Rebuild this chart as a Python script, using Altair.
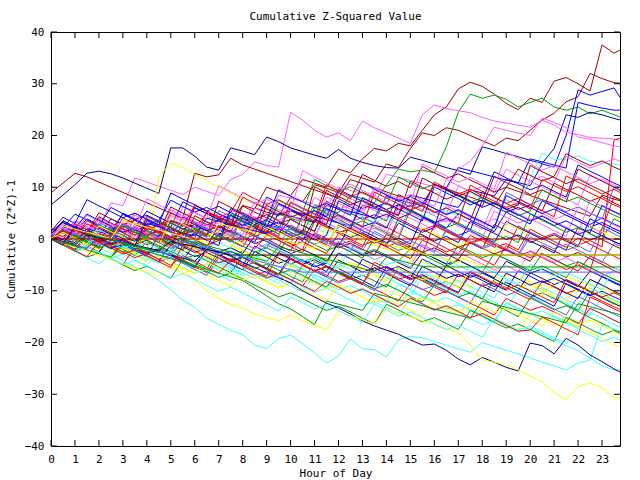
import altair as alt
import pandas as pd

# ---------------- data ----------------
HOURS = [0, 0.5, 1, 1.5, 2, 2.5, 3, 3.5,
         4, 4.5, 5, 5.5, 6, 6.5, 7, 7.5,
         8, 8.5, 9, 9.5, 10, 10.5, 11, 11.5,
         12, 12.5, 13, 13.5, 14, 14.5, 15, 15.5,
         16, 16.5, 17, 17.5, 18, 18.5, 19, 19.5,
         20, 20.5, 21, 21.5, 22, 22.5, 23, 23.5,
         23.75]

X_TICKS = [0, 1, 2, 3, 4, 5, 6, 7, 8, 9, 10, 11, 12, 13, 14, 15, 16, 17, 18, 19, 20, 21, 22, 23]
Y_TICKS = [-40, -30, -20, -10, 0, 10, 20, 30, 40]

# upper outliers
s01 = [1, 0.5, 2, 1.2, 0.4, -0.4, 2.5, 1.8,
       1, 0.2, 3.5, 2.8, 2, 5, 4.2, 3.4,
       6.5, 5.8, 10, 9.2, 8.4, 11.5, 10.8, 10,
       13.5, 12.8, 15.5, 17.5, 17, 18.5, 18, 21,
       24, 25.5, 29, 30.3, 29.5, 28, 26.2, 25,
       27.2, 26.4, 30.5, 31.2, 30, 28.6, 37.5, 35.9,
       36.5]
s02 = [0.5, -0.5, -1.3, 0.8, 0, -0.8, -1.6, -2.3,
       0.5, -0.3, -1, 2, 1.3, 0.5, 4, 3.2,
       2.5, 6, 5.2, 4.5, 8, 7.2, 10.5, 9.8,
       9, 12.5, 11.8, 11, 14.5, 13.8, 17.5, 20.5,
       20, 21.5, 21, 20, 19, 18, 19.5, 19,
       21, 23, 24.3, 26.5, 27.5, 32, 31, 30.2,
       30.1]
s03 = [0, -0.7, 1.5, 0.8, 0, -0.8, -1.5, 1,
       0.3, -0.5, -1.2, -2, 1.5, 0.8, 0, 3.5,
       2.8, 2, 1.3, 4.8, 4, 3.3, 6.5, 5.8,
       5, 8.5, 7.8, 7, 10.5, 13.5, 13, 13.3,
       12.8, 17.8, 24.5, 28, 27.2, 27.8, 27, 25.5,
       26.4, 27.2, 25.5, 24.9, 25.5, 24.2, 24.9, 24,
       23.6]
s04 = [0, 1.5, 0.9, 0.3, -0.3, 2.5, 1.9, 1.3,
       0.7, 0.1, 3.5, 2.9, 2.3, 1.7, 1.1, 0.5,
       4, 3.4, 2.8, 2.2, 5.5, 4.9, 4.3, 3.7,
       3.1, 2.5, 6.5, 5.9, 5.3, 4.7, 8.5, 7.9,
       7.3, 6.7, 6.1, 9.5, 8.9, 8.3, 11.5, 10.9,
       10.3, 14.5, 13.9, 20, 28.8, 27.8, 28.5, 29.2,
       27.4]
s05 = [0.5, -0.1, 3.5, 2.9, 2.3, 7, 6.4, 11.8,
       11, 10.2, 9.4, 8.6, 10, 9.2, 8.4, 11.5,
       12.5, 14.9, 14.2, 13.9, 24.5, 23, 21, 19.7,
       20.5, 19, 22.8, 21.5, 20.5, 19.5, 18.5, 24,
       25.9, 25.2, 24.8, 24.4, 23.5, 22.8, 22.4, 22,
       21.6, 23, 22, 20.6, 20.2, 19.6, 19.5, 19.3,
       19.1]
s06 = [6.6, 8.5, 10.5, 12.7, 13.1, 12.6, 11.8, 10.8,
       9.8, 8.8, 17.6, 17.6, 16, 13.9, 13.3, 17.6,
       17, 16.3, 19.7, 18.8, 17.6, 16.9, 16.2, 15.6,
       17.3, 15.6, 14.8, 14.2, 13.8, 13.7, 15.8, 15.2,
       14.5, 13.8, 13.2, 12.5, 17.8, 17.2, 16.5, 15.9,
       15.2, 14.6, 17.5, 24, 23.5, 24.5, 24, 23.3,
       23]
s07 = [8.9, 10.8, 12.7, 12, 11, 10, 9, 8,
       7, 6, 5, 4, 12.7, 12, 12.4, 15.6,
       14.3, 13.5, 12.7, 11.9, 11.1, 10.3, 9.5, 8.7,
       7.9, 11.5, 10.7, 9.9, 9.1, 8.3, 7.5, 6.7,
       10.5, 9.7, 8.9, 8.1, 7.3, 6.5, 10, 9.2,
       8.4, 7.6, 6.8, 6, 5.2, 4.4, 8.5, 7.7,
       7.4]
s08 = [0, -0.6, -1.2, 1, 0.4, -0.2, -0.8, -1.4,
       -2, 12, 14.7, 13.8, 12.5, 11.2, 10, 8.8,
       7.6, 6.8, 6, 5.2, 4.4, 3.6, 2.8, 2,
       1.2, 0.4, -0.4, -1.2, -2, -2.8, -3.6, -4.4,
       -5.2, -6, -3.5, -4.3, -5.1, -5.9, -6.7, -7.5,
       -8.3, -9.1, -6.5, -7.3, -8.1, -8.9, -9.7, -10.5,
       -10.9]
# main band
s09 = [0, -1.1, 0.4, -0.8, -1.9, -0.6, -1.7, 1.8,
       0.6, -0.5, -1.6, -0.3, -1.4, 2.9, 1.7, 0.5,
       -0.7, -1.9, 0.8, -0.3, -1.5, -2.6, 1.2, 0.1,
       -1.1, -0.4, -1.6, 3.5, 2.3, 1.1, -0.1, 0.6,
       -0.6, -1.8, -3, 0.7, -0.4, -1.6, -0.9, -2.1,
       1.9, 0.7, -0.5, -1.6, 0.2, -1, -2.2, -3.3,
       -3.9]
s10 = [0.3, 1.2, 0.1, -1, -0.2, -1.4, -2.5, -1.8,
       1.5, 0.3, -0.9, -2, -0.7, -1.9, -3, -4.1,
       -2.2, -3.4, -1.1, -2.2, -3.3, -4.5, -3.6, -4.8,
       -0.5, -1.7, -2.8, -2, -3.1, -4.3, -1.9, -3,
       -4.2, -5.3, -4.1, -5.2, -6.4, -2.8, -3.9, -5,
       -6.1, -5.2, -6.3, -7.5, -4.4, -5.5, -6.7, -7.8,
       -8.3]
s11 = [0.6, 2.4, 1.2, 3.9, 2.7, 1.6, 4.8, 3.6,
       2.4, 1.3, 2.2, 1, 6.1, 4.9, 3.8, 2.6,
       4.4, 3.2, 2.1, 1, 3.8, 2.6, 1.5, 5.9,
       4.7, 3.6, 2.4, 3.2, 2.1, 6.8, 5.6, 4.4,
       3.3, 2.1, 4.9, 3.7, 2.6, 1.4, 5.2, 4,
       2.9, 7.4, 6.2, 5.1, 3.9, 2.8, 4.1, 2.9,
       2.4]
s12 = [1.2, 0.1, 2.6, 1.4, 4.1, 2.9, 1.8, 0.6,
       3.3, 2.1, 5.7, 4.5, 3.4, 2.2, 4.9, 3.7,
       2.6, 7.2, 6, 4.9, 5.8, 4.6, 3.5, 8.1,
       6.9, 5.8, 4.6, 9.7, 8.5, 7.4, 6.2, 7.1,
       5.9, 4.8, 10.3, 9.1, 8, 6.8, 7.6, 6.5,
       11.2, 10, 8.9, 7.7, 6.6, 12.4, 11.2, 10.1,
       9.5]
s13 = [0, -1.1, -2.2, -1.5, -2.6, -3.8, -2.9, -4,
       -5.1, -2.3, -3.4, -4.6, -5.7, -4.9, -6, -7.1,
       -3.6, -4.7, -5.9, -7, -6.1, -7.2, -8.4, -9.5,
       -6.2, -7.3, -8.5, -9.6, -8.8, -9.9, -11, -7.4,
       -8.5, -9.7, -10.8, -10, -11.1, -12.2, -13.4, -9.9,
       -11, -12.2, -11.3, -12.4, -13.6, -14.7, -11.2, -12.3,
       -12.9]
s14 = [0.2, -0.9, 0.9, -0.2, -1.3, -2.5, -1.7, -2.8,
       0.6, -0.5, -1.7, -0.9, -2, -3.1, -4.3, -1.1,
       -2.2, -3.4, -4.5, -3.7, -4.8, -5.9, -1.8, -2.9,
       -4.1, -5.2, -4.4, -5.5, -6.6, -7.8, -4.3, -5.4,
       -6.5, -7.7, -6.8, -8, -9.1, -10.2, -6.6, -7.7,
       -8.9, -10, -9.2, -10.3, -11.4, -7.9, -9, -10.2,
       -10.7]
s15 = [0.9, -0.2, 1.3, 0.2, -1, 2.3, 1.2, 0,
       -1.1, -0.3, -1.4, 3.1, 2, 0.8, -0.3, 0.5,
       -0.6, 3.8, 2.6, 1.5, 0.3, 1.2, 0, -1.1,
       2.7, 1.5, 0.4, -0.8, 0.1, -1, -2.2, 1.9,
       0.7, -0.4, -1.6, -0.8, -1.9, 2.8, 1.6, 0.5,
       -0.7, 0.2, -1, -2.1, 2.2, 1, -0.1, -1.3,
       -1.8]
s16 = [0, -1.1, -0.2, -1.4, -2.5, 0.7, -0.4, -1.6,
       -2.7, -1.9, -3, -4.2, -0.9, -2, -3.2, -2.4,
       -3.5, -4.7, -5.8, -2.6, -3.7, -4.9, -4, -5.2,
       -6.3, -7.5, -3.9, -5, -6.2, -5.3, -6.5, -7.6,
       -8.8, -5.1, -6.3, -7.4, -6.6, -7.7, -8.9, -10,
       -6.5, -7.6, -8.8, -7.9, -9.1, -10.2, -11.4, -12.5,
       -13]
s17 = [0.4, 2.6, 1.5, 0.3, 1.1, 0, -1.2, 2.4,
       1.2, 0.1, -1.1, -0.2, -1.4, -2.5, 0.8, -0.4,
       -1.5, 2.1, 0.9, -0.2, -1.4, -0.5, -1.7, -2.8,
       1.1, -0.1, -1.2, -0.4, -1.5, -2.7, -3.8, -0.2,
       -1.3, -2.5, -1.6, -2.8, -3.9, -5.1, -1.3, -2.5,
       -3.6, -2.8, -3.9, -5.1, -6.2, -3.3, -4.4, -5.6,
       -6.1]
s18 = [0, -1.1, -2.2, -1.4, -2.5, -3.7, 0.2, -0.9,
       -2.1, -3.2, -2.4, -3.5, -4.7, -5.8, -2.3, -3.4,
       -4.6, -5.7, -4.9, -6, -7.2, -8.3, -4.4, -5.5,
       -6.7, -7.8, -7, -8.1, -9.3, -5.6, -6.7, -7.9,
       -9, -8.2, -9.3, -10.5, -11.6, -7.8, -8.9, -10.1,
       -11.2, -10.4, -11.5, -12.7, -13.8, -10.1, -11.2, -12.4,
       -12.9]
s19 = [0.5, 1.3, 2.9, 1.8, 0.6, 3.9, 2.8, 1.6,
       2.5, 1.3, 0.2, 4.3, 3.1, 2, 0.8, 1.7,
       0.5, -0.6, 3.6, 2.4, 1.3, 0.1, 0.9, -0.2,
       -1.4, 2.8, 1.6, 0.5, -0.7, 0.2, -1, 4.2,
       3, 1.9, 0.7, 1.6, 0.4, -0.7, 3.4, 2.2,
       1.1, -0.1, 0.8, -0.4, -1.5, 3.9, 2.7, 1.6,
       1]
s20 = [2.1, 1, 3.4, 2.2, 1.1, 1.9, 0.8, 4.6,
       3.4, 2.3, 1.1, 6.2, 5, 3.9, 4.7, 3.6,
       2.4, 1.3, 6.9, 5.7, 4.6, 3.4, 4.3, 3.1,
       2, 7.8, 6.6, 5.5, 4.3, 5.2, 4, 2.9,
       1.7, 6.5, 5.3, 4.2, 3, 3.9, 2.7, 7.3,
       6.1, 5, 3.8, 4.7, 3.5, 2.4, 1.2, 2.1,
       1.5]
s21 = [0, -1.1, 0.6, -0.5, -1.7, -2.8, -2, -3.1,
       -4.3, -1.1, -2.2, -3.4, -4.5, -3.7, -4.8, -6,
       -7.1, -6.3, -7.4, -8.6, -5.2, -6.3, -7.5, -8.6,
       -9.8, -9, -10.1, -11.3, -12.4, -8.7, -9.8, -11,
       -12.1, -11.3, -12.4, -13.6, -14.7, -15.9, -12.2, -13.3,
       -14.5, -15.6, -14.8, -15.9, -17.1, -13.4, -14.5, -15.7,
       -16.2]
s22 = [0, 1.4, 0.3, -0.9, -2, -1.2, -2.3, 1.1,
       0, -1.2, -2.3, -1.5, -2.6, -3.8, -0.6, -1.7,
       -2.9, -4, -3.2, -4.3, -5.5, -1.9, -3, -4.2,
       -5.3, -4.5, -5.6, -6.8, -7.9, -4.6, -5.7, -6.9,
       -8, -7.2, -8.3, -9.5, -6.1, -7.2, -8.4, -9.5,
       -8.7, -9.8, -11, -12.1, -8.8, -9.9, -11.1, -12.2,
       -12.7]
s23 = [1.5, 3.2, 2.1, 0.9, 4.3, 3.1, 2, 0.8,
       1.7, 0.5, 5.1, 3.9, 2.8, 1.6, 2.5, 1.3,
       6.4, 5.2, 4.1, 2.9, 3.8, 2.6, 1.5, 7.3,
       6.1, 5, 3.8, 4.7, 3.5, 8.6, 7.4, 6.3,
       5.1, 6, 4.8, 3.7, 9.2, 8, 6.9, 5.7,
       6.6, 5.4, 10.8, 9.6, 8.5, 7.3, 8.2, 7,
       6.4]
s24 = [0, -1.1, -2.3, 0.6, -0.5, -1.7, -0.9, -2,
       -3.2, -4.3, -1.1, -2.2, -3.4, -2.6, -3.7, -4.9,
       -6, -2.4, -3.5, -4.7, -3.9, -5, -6.2, -7.3,
       -4.1, -5.2, -6.4, -5.6, -6.7, -7.9, -9, -5.3,
       -6.4, -7.6, -6.8, -7.9, -9.1, -10.2, -6.6, -7.7,
       -8.9, -8.1, -9.2, -10.4, -11.5, -7.8, -8.9, -10.1,
       -10.6]
s25 = [0, -1.1, -0.3, -1.4, -2.6, -3.7, -0.4, -1.5,
       -2.7, -1.9, -3, -4.2, -5.3, -2.1, -3.2, -4.4,
       -3.6, -4.7, -5.9, -7, -3.8, -4.9, -6.1, -5.3,
       -6.4, -7.6, -8.7, -5.5, -6.6, -7.8, -7, -8.1,
       -9.3, -10.4, -6.8, -7.9, -9.1, -8.3, -9.4, -10.6,
       -11.7, -8.2, -9.3, -10.5, -9.7, -10.8, -12, -13.1,
       -13.6]
s26 = [0.4, -0.7, 1.9, 0.8, -0.4, 0.4, -0.7, -1.9,
       1.3, 0.2, -1, -0.2, -1.3, -2.5, 0.9, -0.2,
       -1.4, -2.5, -1.7, -2.8, 1.2, 0.1, -1.1, -2.2,
       -1.4, -2.5, -3.7, 0.1, -1, -2.2, -1.4, -2.5,
       -3.7, -4.8, -1.3, -2.4, -3.6, -2.8, -3.9, -5.1,
       -6.2, -2.9, -4, -5.2, -4.4, -5.5, -6.7, -7.8,
       -8.3]
s27 = [0, -1.1, -2.3, -1.5, -2.6, 0.5, -0.6, -1.8,
       -2.9, -2.1, -3.2, -4.4, -5.5, -1.9, -3, -4.2,
       -3.4, -4.5, -5.7, -6.8, -3.1, -4.2, -5.4, -4.6,
       -5.7, -6.9, -8, -9.2, -5.4, -6.5, -7.7, -6.9,
       -8, -9.2, -10.3, -6.9, -8, -9.2, -8.4, -9.5,
       -10.7, -11.8, -13, -8.6, -9.7, -10.9, -10.1, -11.2,
       -11.7]
s28 = [0.6, 2.7, 1.6, 0.4, 3.8, 2.6, 1.5, 2.3,
       1.2, 0, 4.1, 2.9, 1.8, 0.6, 1.5, 0.3,
       5.2, 4, 2.9, 1.7, 2.6, 1.4, 0.3, 4.7,
       3.5, 2.4, 1.2, 2.1, 0.9, 6.3, 5.1, 4,
       2.8, 3.7, 2.5, 1.4, 0.2, 5.4, 4.2, 3.1,
       3.9, 2.8, 1.6, 0.5, 6.2, 5, 3.9, 2.7,
       2.1]
s29 = [0, -1.2, -0.4, -1.5, -2.7, -3.8, -1, -2.1,
       -3.3, -4.4, -3.6, -4.7, -5.9, -7, -4.2, -5.3,
       -6.5, -7.6, -6.8, -7.9, -9.1, -10.2, -6.9, -8,
       -9.2, -10.3, -9.5, -10.6, -11.8, -12.9, -10.1, -11.2,
       -12.4, -13.5, -12.7, -13.8, -15, -16.1, -12.4, -13.5,
       -14.7, -13.9, -15, -16.2, -17.3, -14.2, -15.3, -16.5,
       -17]
s30 = [0, -1.1, 1.2, 0.1, -1.1, -0.3, -1.4, -2.6,
       0.8, -0.3, -1.5, -2.6, -1.8, -2.9, -4.1, -1.2,
       -2.3, -3.5, -2.7, -3.8, -5, -6.1, -3.4, -4.5,
       -5.7, -4.9, -6, -7.2, -8.3, -5.6, -6.7, -7.9,
       -7.1, -8.2, -9.4, -6.2, -7.3, -8.5, -9.6, -8.8,
       -9.9, -11.1, -7.9, -9, -10.2, -9.4, -10.5, -11.7,
       -12.2]
s31 = [1, 3.5, 2.4, 1.2, 5.1, 3.9, 2.8, 3.6,
       2.5, 1.3, 6.2, 5, 3.9, 2.7, 3.6, 2.4,
       8.1, 6.9, 5.8, 4.6, 5.5, 4.3, 3.2, 9.4,
       8.2, 7.1, 5.9, 6.8, 5.6, 4.5, 11.2, 10,
       8.9, 7.7, 8.6, 7.4, 6.3, 12.1, 10.9, 9.8,
       8.6, 9.5, 8.3, 7.2, 13.5, 12.3, 11.2, 10,
       9.4]
s32 = [0, 1.9, 0.8, -0.4, -1.5, 1.3, 0.2, -1,
       -0.2, -1.3, -2.5, 0.9, -0.2, -1.4, -2.5, -1.7,
       -2.8, 0.6, -0.5, -1.7, -2.8, -2, -3.1, -4.3,
       -0.8, -1.9, -3.1, -2.3, -3.4, -4.6, -5.7, -2.6,
       -3.7, -4.9, -4.1, -5.2, -6.4, -7.5, -4.3, -5.4,
       -6.6, -5.8, -6.9, -8.1, -9.2, -6.2, -7.3, -8.5,
       -9]
s33 = [0.5, -0.6, 2, 0.9, -0.3, 0.5, -0.6, 2.9,
       1.7, 0.6, -0.6, 0.3, -0.9, 3.4, 2.2, 1.1,
       -0.1, 0.8, -0.4, -1.5, 2.7, 1.5, 0.4, -0.8,
       0.1, -1.1, -2.2, 1.5, 0.3, -0.8, -2, -1.1,
       -2.3, 1.6, 0.4, -0.7, -1.9, -1, -2.2, -3.3,
       0.4, -0.8, -1.9, -1, -2.2, -3.3, -4.5, -0.9,
       -1.4]
s34 = [0, -1.2, -2.3, -1.5, -2.6, -3.8, -4.9, -1.6,
       -2.7, -3.9, -3.1, -4.2, -5.4, -6.5, -3, -4.1,
       -5.3, -4.5, -5.6, -6.8, -7.9, -9.1, -5.9, -7,
       -8.2, -7.4, -8.5, -9.7, -10.8, -12, -8.6, -9.7,
       -10.9, -10.1, -11.2, -12.4, -13.5, -14.7, -11.5, -12.6,
       -13.8, -13, -14.1, -15.3, -16.4, -13.4, -14.5, -15.7,
       -16.2]
s35 = [0, 1.7, 0.6, -0.6, -1.7, -0.9, -2, -3.2,
       -0.5, -1.6, -2.8, -3.9, -3.1, -4.2, -5.4, -6.5,
       -3.3, -4.4, -5.6, -6.7, -5.9, -7, -8.2, -9.3,
       -6.2, -7.3, -8.5, -9.6, -8.8, -9.9, -11.1, -12.2,
       -8.9, -10, -11.2, -10.4, -11.5, -12.7, -13.8, -15,
       -11.4, -12.5, -13.7, -12.9, -14, -15.2, -16.3, -17.5,
       -18]
s36 = [0, -1.2, -2.3, 0.4, -0.7, -1.9, -1.1, -2.2,
       -3.4, 0.8, -0.3, -1.5, -2.6, -1.8, -2.9, -4.1,
       -5.2, -1.4, -2.5, -3.7, -4.8, -4, -5.1, -6.3,
       -2.7, -3.8, -5, -6.1, -5.3, -6.4, -7.6, -3.9,
       -5, -6.2, -7.3, -6.5, -7.6, -8.8, -9.9, -6.1,
       -7.2, -8.4, -7.6, -8.7, -9.9, -11, -7.2, -8.3,
       -8.8]
s37 = [0.5, 2.8, 1.7, 0.5, 3.9, 2.7, 1.6, 0.4,
       1.3, 0.1, 4.6, 3.4, 2.3, 1.1, 2, 0.8,
       -0.3, 4.2, 3, 1.9, 0.7, 1.6, 0.4, 5.3,
       4.1, 3, 1.8, 2.7, 1.5, 0.4, 6.8, 5.6,
       4.5, 3.3, 4.2, 3, 1.9, 7.2, 6, 4.9,
       3.7, 4.6, 3.4, 2.3, 1.1, 7.5, 6.3, 5.2,
       4.6]
s38 = [0, -1.1, -2.3, 0.2, -0.9, -2.1, -1.3, -2.4,
       -3.6, -4.7, -1.8, -2.9, -4.1, -3.3, -4.4, -5.6,
       -6.7, -3.2, -4.3, -5.5, -4.7, -5.8, -7, -8.1,
       -4.8, -5.9, -7.1, -6.3, -7.4, -8.6, -9.7, -6.5,
       -7.6, -8.8, -8, -9.1, -10.3, -11.4, -7.9, -9,
       -10.2, -9.4, -10.5, -11.7, -12.8, -9.5, -10.6, -11.8,
       -12.3]
s39 = [0, -1.2, -2.3, -3.5, -2.7, -3.8, -5, -6.1,
       -3.2, -4.3, -5.5, -6.6, -5.8, -6.9, -8.1, -9.2,
       -6, -7.1, -8.3, -9.4, -8.6, -9.7, -10.9, -12,
       -8.9, -10, -11.2, -12.3, -11.5, -12.6, -13.8, -14.9,
       -11.6, -12.7, -13.9, -13.1, -14.2, -15.4, -16.5, -17.7,
       -14.3, -15.4, -16.6, -15.8, -16.9, -18.1, -19.2, -20.4,
       -20.9]
s40 = [0.3, -0.8, -2, 1.1, 0, -1.2, -0.4, -1.5,
       2.2, 1, -0.1, -1.3, -0.5, -1.6, 2.6, 1.4,
       0.3, -0.9, 0, -1.2, -2.3, 1.8, 0.6, -0.5,
       -1.7, -0.8, -2, -3.1, 0.9, -0.3, -1.4, -2.6,
       -1.7, -2.9, -4, -0.6, -1.7, -2.9, -2, -3.2,
       -4.3, -1.2, -2.3, -3.5, -2.6, -3.8, -4.9, -6.1,
       -6.6]
s41 = [1, 3.2, 2.1, 4.8, 3.6, 2.5, 1.3, 2.2,
       5.4, 4.2, 3.1, 1.9, 2.8, 1.6, 0.5, 4.6,
       3.4, 2.3, 1.1, 2, 0.8, -0.3, 3.8, 2.6,
       1.5, 0.3, 1.2, 0, -1.1, 3.1, 1.9, 0.8,
       -0.4, 0.5, -0.7, 3.4, 2.2, 1.1, -0.1, 0.8,
       -0.4, -1.5, -2.7, 2.1, 0.9, -0.2, 0.7, -0.5,
       -1]
s42 = [0, -1.2, -2.3, -1.5, -2.6, -3.8, -1, -2.1,
       -3.3, -4.4, -3.6, -4.7, -5.9, -7, -3.6, -4.7,
       -5.9, -7, -6.2, -7.3, -8.5, -5.1, -6.2, -7.4,
       -8.5, -7.7, -8.8, -10, -6.4, -7.5, -8.7, -9.8,
       -9, -10.1, -11.3, -12.4, -8.6, -9.7, -10.9, -10.1,
       -11.2, -12.4, -13.5, -14.7, -11.1, -12.2, -13.4, -14.5,
       -15]
s43 = [1, -0.1, 2.9, 1.8, 0.6, 1.5, 0.3, 3.9,
       2.7, 1.6, 0.4, 1.3, 0.1, 5.2, 4, 2.9,
       1.7, 2.6, 1.4, 0.3, -0.9, 4.6, 3.4, 2.3,
       1.1, 2, 0.8, -0.3, -1.5, -0.6, -1.8, -2.9,
       2.8, 1.6, 0.5, -0.7, 0.2, -1, -2.1, -3.3,
       -2.4, -3.6, -4.7, -5.9, -5, -6.2, 1.9, 8.1,
       7.6]
s44 = [0, -1.2, -2.3, -3.5, -2.7, -3.8, -5, -6.1,
       -5.3, -6.4, -7.6, -4, -5.1, -6.3, -7.4, -6.6,
       -7.7, -8.9, -10, -11.2, -10.4, -11.5, -12.7, -13.8,
       -13, -14.1, -15.3, -16.4, -12.6, -13.7, -14.9, -16,
       -15.2, -16.3, -17.5, -13.8, -14.9, -16.1, -17.2, -16.4,
       -17.5, -18.7, -19.8, -15.1, -16.2, -17.4, -18.5, -17.7,
       -18.2]
s45 = [0, 2.2, 4.8, 3.7, 2.5, 6.1, 4.9, 3.8,
       4.6, 3.5, 2.3, 7.2, 6, 4.9, 3.7, 4.6,
       3.4, 2.3, 8.1, 6.9, 5.8, 4.6, 5.5, 4.3,
       9.6, 8.4, 7.3, 6.1, 7, 5.8, 4.7, 3.5,
       10.1, 8.9, 7.8, 6.6, 7.5, 13, 11.8, 10.7,
       9.5, 10.4, 9.2, 8.1, 14.3, 13.1, 12, 10.8,
       10.3]
s46 = [0, -1.1, 1.4, 0.3, -0.9, -0.1, -1.2, 2.1,
       0.9, -0.2, -1.4, -0.5, -1.7, -2.8, 1.6, 0.4,
       -0.7, -1.9, -1, -2.2, -3.3, 0.9, -0.2, -1.4,
       -0.5, -1.7, -2.8, -4, -3.1, -4.3, -5.4, -1.1,
       -2.2, -3.4, -2.5, -3.7, -4.8, -6, -5.1, -6.3,
       -2.2, -3.3, -4.5, -3.6, -4.8, -5.9, -7.1, -6.2,
       -6.7]
s47 = [0, -1.1, -0.3, -1.4, 0.5, -0.6, -1.8, -0.9,
       -2.1, -3.2, -2.4, 0.8, -0.3, -1.5, -0.6, -1.8,
       2, 0.8, -0.3, 0.6, -0.6, 3.5, 2.3, 1.2,
       2.1, 5.5, 4.3, 3.2, 4.1, 2.9, 7, 5.8,
       4.7, 5.6, 4.4, 9, 7.8, 6.7, 7.6, 6.4,
       11.8, 16.6, 15.4, 15.3, 16.1, 15, 14.7, 14.5,
       14.3]
s48 = [0, -1.1, -0.3, 1.5, 0.3, -0.8, 0.1, -1.1,
       2.5, 1.3, 0.2, 1.1, -0.1, -1.2, -0.3, 2.8,
       1.6, 0.5, 1.4, 0.2, -0.9, -2.1, 3.5, 2.3,
       1.2, 2.1, 0.9, -0.2, -1.4, 4, 2.8, 1.7,
       2.6, 1.4, 0.3, -0.9, 0, -1.2, -2.3, 2.5,
       1.3, 0.2, 1.1, -0.1, -1.2, -0.3, -1.5, 19.1,
       19.5]
# lower outliers
s49 = [0, -1.2, -2.4, -3.6, -4.8, -3, -4.2, -5.4,
       -6.6, -8, -9.8, -11.8, -13.2, -15.3, -16.5, -17.6,
       -18.5, -20.5, -21.2, -19.2, -18.6, -20.2, -22, -24,
       -22.6, -19.3, -21.2, -21.4, -22.8, -19.5, -18.8, -19.1,
       -19.8, -20.5, -21.2, -21.9, -20, -20.8, -21.5, -22.2,
       -23, -23.8, -24.5, -25.3, -24, -23.4, -16.6, -17.4,
       -17.8]
s50 = [0, -1.1, -2.3, -1.5, -2.6, -3.8, -1.7, -2.8,
       -4, -3.2, -4.3, -5.5, -6.6, -5.8, -6.9, -8.1,
       -5.4, -6.5, -7.7, -6.9, -8, -9.2, -10.3, -9.5,
       -10.6, -11.8, -12.9, -12.1, -13.2, -14.4, -11.6, -12.7,
       -13.9, -13.1, -14.2, -15.4, -16.5, -15.7, -16.8, -18,
       -17.2, -18.3, -19.5, -20.6, -21.6, -23, -24.5, -25.3,
       -25.3]
s51 = [0, -0.6, -1.2, -1.8, 0.5, -0.1, -0.7, -1.3,
       -1.9, -2.5, -3.1, -3.7, -4.3, -2, -2.6, -3.2,
       -4.5, -5.5, -6.5, -7.5, -8.5, -10, -11.2, -12.4,
       -13.3, -14.5, -15.8, -16.8, -17.6, -18.4, -19.5, -20.5,
       -20.3, -21.5, -23.2, -24.3, -22.9, -23.8, -24.8, -25.5,
       -20.1, -20.6, -22.2, -19.2, -20.5, -22.4, -23.7, -25.1,
       -25.7]
s52 = [0, -0.8, -1.6, -2.4, -3.2, -4, -4.8, -5.6,
       -6.4, -7.2, -5, -5.8, -8, -10, -11.5, -12.6,
       -13.3, -14.5, -15.2, -15.8, -14.7, -15.8, -16.6, -17.5,
       -14, -14.8, -15.6, -16.4, -13.5, -14.3, -15, -15.8,
       -16.6, -17.4, -18.1, -20.5, -23.4, -23.8, -24.3, -25.3,
       -26.5, -27.6, -29.7, -31, -28.5, -27.8, -28.8, -30.7,
       -30.7]
s53 = [0, -1.1, -0.3, -1.4, -2.6, -3.7, -1.8, -2.9,
       -4.1, -3.3, -4.4, -5.6, -6.7, -4.5, -5.6, -6.8,
       -7.9, -7.1, -8.2, -9.4, -6.3, -7.4, -8.6, -9.7,
       -8.9, -10, -11.2, -12.3, -9.8, -10.9, -12.1, -11.3,
       -12.4, -13.6, -14.7, -11.9, -13, -14.2, -13.4, -14.5,
       -15.7, -16.8, -14.2, -15.3, -16.5, -15.7, -16.8, -18,
       -18.5]
s54 = [0, -0.7, -1.4, -2.1, -2.8, -3.5, -1, -1.7,
       -2.4, -3.1, -3.8, -4.5, -5.2, -5.9, -6.6, -7.3,
       -8, -9.5, -11, -12.5, -13.5, -15, -16.5, -12,
       -12.6, -13.2, -13.8, -10.5, -11.1, -11.7, -12.3, -12.9,
       -13.5, -14.1, -14.7, -15.3, -12, -12.6, -13.2, -13.8,
       -14.4, -15, -15.6, -16.2, -12.5, -13.1, -13.7, -14.3,
       -14.6]
s55 = [0, -1.1, -2.3, -1.5, -0.2, -1.3, -2.5, -3.6,
       -2.8, -3.9, -5.1, -3.2, -4.3, -5.5, -6.6, -4.1,
       -5.2, -6.4, -7.5, -6.7, -7.8, -9, -10.1, -8.2,
       -9.3, -10.5, -9.7, -10.8, -12, -13.1, -11.4, -12.5,
       -13.7, -12.9, -14, -15.2, -14.4, -15.5, -16.7, -17.8,
       -17.6, -15.1, -16.2, -17.4, -18.5, -11.2, -12.3, -13.5,
       -14]
s56 = [0, -1.2, -2.3, -1.5, -2.6, -3.8, -4.9, -4.1,
       -5.2, -6.4, -7.5, -6.7, -7.8, -9, -10.1, -9.3,
       -10.4, -11.6, -12.7, -13.9, -11.2, -12.3, -13.5, -12.7,
       -13.8, -15, -16.1, -12.6, -13.7, -14.9, -14.1, -15.2,
       -16.4, -17.5, -16.7, -17.8, -19, -15.3, -16.4, -17.6,
       -16.8, -17.9, -19.1, -20.2, -17.5, -18.6, -19.8, -19,
       -19.5]
# upper band
s57 = [0.5, -0.1, -0.7, 2, 1.4, 0.8, 0.2, -0.4,
       3, 2.4, 1.8, 1.2, 0.6, 4, 3.4, 2.8,
       2.2, 1.6, 1, 5, 4.4, 3.8, 3.2, 6.5,
       5.9, 5.3, 4.7, 4.1, 8.2, 7.6, 7, 6.4,
       10.5, 9.9, 13.8, 13.2, 12.6, 12, 11.4, 10.8,
       15.5, 14.9, 14.3, 13.7, 26.4, 25.8, 25.3, 24.9,
       24.9]
s58 = [0, 1.5, 3, 2.4, 1.8, 1.2, 3.5, 2.9,
       2.3, 1.7, 4.5, 3.9, 3.3, 2.7, 2.1, 5.5,
       4.9, 4.3, 3.7, 8.5, 7.9, 7.3, 6.7, 6.1,
       10, 9.4, 8.8, 8.2, 12.5, 11.9, 11.3, 10.7,
       10.1, 9.5, 13.5, 15, 18, 21.6, 21, 20.5,
       20, 23.4, 22.5, 21.5, 19.7, 19.3, 18.6, 18,
       17.8]
s59 = [0.5, -0.6, 2.2, 1, -0.1, 0.8, 3, 1.9,
       0.7, 1.6, 0.4, 4.5, 3.3, 2.2, 3.1, 1.9,
       0.8, 6, 4.8, 3.7, 4.6, 3.4, 8, 6.8,
       5.7, 6.6, 5.4, 10, 8.8, 7.7, 8.6, 7.4,
       6.3, 11.5, 10.3, 9.2, 10.1, 8.9, 13.5, 12.3,
       11.2, 12.1, 10.9, 16, 14.8, 13.7, 14.6, 15.5,
       15]
s60 = [0, -1.1, 1.8, 0.7, -0.5, 0.4, 3, 1.9,
       0.7, 1.6, 0.4, -0.7, 4.5, 3.3, 2.2, 3.1,
       1.9, 0.8, 6.5, 5.3, 4.2, 5.1, 3.9, 2.8,
       9, 7.8, 12.5, 11.3, 10.2, 11.1, 9.9, 14,
       12.8, 11.7, 12.6, 11.4, 10.3, 9.1, 10, 13.5,
       12.3, 11.2, 12.1, 16.5, 15.3, 14.2, 15.1, 13.9,
       13.4]
s61 = [0, 1.6, 0.5, -0.7, 2.8, 1.6, 2.5, 1.3,
       0.2, 3.5, 2.3, 1.2, 2.1, 0.9, -0.2, 4.8,
       3.6, 2.5, 3.4, 7.5, 6.3, 5.2, 11.5, 10.3,
       9.2, 10.1, 8.9, 7.8, 6.6, 12, 10.8, 9.7,
       10.6, 9.4, 8.3, 7.1, 8, 6.8, 5.7, 4.5,
       5.4, 9.5, 8.3, 7.2, 8.1, 6.9, 5.8, 4.6,
       4.1]
s62 = [0.5, 3.5, 2.3, 1.2, 2.1, 0.9, 5, 3.8,
       2.7, 3.6, 7.5, 6.3, 5.2, 6.1, 4.9, 3.8,
       2.6, 3.5, 2.3, 6.8, 5.6, 4.5, 5.4, 4.2,
       3.1, 1.9, 8, 6.8, 5.7, 6.6, 5.4, 4.3,
       3.1, 4, 2.8, 1.7, 7.5, 6.3, 5.2, 6.1,
       4.9, 3.8, 2.6, 3.5, 2.3, 1.2, 6.5, 5.3,
       4.8]
s63 = [0, 1.5, 0.3, 3.5, 2.3, 1.2, 2.1, 5,
       3.8, 2.7, 3.6, 2.4, 6.5, 5.3, 4.2, 5.1,
       9, 7.8, 6.7, 7.6, 6.4, 5.3, 4.1, 10.5,
       9.3, 8.2, 9.1, 7.9, 6.8, 5.6, 6.5, 5.3,
       11, 9.8, 8.7, 9.6, 8.4, 7.3, 6.1, 7,
       5.8, 11.5, 10.3, 9.2, 10.1, 8.9, 7.8, 6.6,
       6.1]
s64 = [0, 2, 0.8, -0.3, 3.2, 2, 2.9, 1.7,
       4, 2.8, 1.7, 2.6, 1.4, 0.3, 5.5, 4.3,
       3.2, 4.1, 2.9, 1.8, 7, 5.8, 4.7, 5.6,
       4.4, 3.3, 4.2, 3, 8.5, 7.3, 6.2, 7.1,
       5.9, 4.8, 5.7, 4.5, 3.4, 2.2, 9, 7.8,
       6.7, 7.6, 6.4, 5.3, 6.2, 5, 3.9, 10,
       9.5]
s65 = [0.2, 1.6, 0.5, 2.9, 1.8, 0.6, 4.1, 2.9,
       1.8, 2.7, 1.5, 0.4, 6.6, 5.4, 4.3, 3.1,
       4, 2.8, 1.7, 0.5, 7.2, 6, 4.9, 3.7,
       4.6, 3.4, 2.3, 9.1, 7.9, 6.8, 5.6, 6.5,
       5.3, 4.2, 3, 10.4, 9.2, 8.1, 6.9, 7.8,
       6.6, 5.5, 4.3, 12.2, 11, 9.9, 8.7, 9.6,
       9]
s66 = [0, -1.1, 0.7, -0.4, -1.6, 1.9, 0.7, -0.4,
       0.5, -0.7, 3.2, 2, 0.9, -0.3, 0.6, -0.6,
       4.5, 3.3, 2.2, 1, 1.9, 0.7, 6.1, 4.9,
       3.8, 2.6, 3.5, 2.3, 1.2, 0, 5.7, 4.5,
       3.4, 2.2, 3.1, 1.9, 0.8, -0.4, 0.5, -0.7,
       4.8, 3.6, 2.5, 1.3, 2.2, 1, -0.1, 3.9,
       3.3]
s67 = [1.5, 4.2, 3, 7.6, 6.4, 5.3, 4.1, 5,
       3.8, 2.7, 8.9, 7.7, 6.6, 5.4, 6.3, 5.1,
       4, 2.8, 3.7, 9.5, 8.3, 7.2, 6, 6.9,
       5.7, 4.6, 10.8, 9.6, 8.5, 7.3, 8.2, 7,
       5.9, 4.7, 5.6, 4.4, 3.3, 2.1, 8.4, 7.2,
       6.1, 4.9, 5.8, 4.6, 3.5, 2.3, 3.2, 2,
       1.5]
s68 = [0.8, 2.1, 1, 4.6, 3.4, 2.3, 3.1, 2,
       7.8, 6.6, 5.5, 4.3, 5.2, 4, 10.3, 9.1,
       8, 6.8, 7.7, 6.5, 5.4, 13.2, 12, 10.9,
       9.7, 10.6, 9.4, 8.3, 7.1, 8, 6.8, 14.5,
       13.3, 12.2, 11, 11.9, 10.7, 9.6, 16.8, 15.6,
       14.5, 13.3, 14.2, 13, 11.9, 10.7, 11.6, 10.4,
       9.9]
s69 = [0, -1.1, -2.3, -1.5, 1.8, 0.6, -0.5, -1.7,
       -0.8, -2, -3.1, 0.4, -0.7, -1.9, -3, -2.2,
       -3.3, -4.5, -0.9, -2, -3.2, -4.3, -3.5, -4.6,
       -5.8, -1.6, -2.7, -3.9, -5, -4.2, -5.3, -6.5,
       -2.8, -3.9, -5.1, -6.2, -5.4, -6.5, -7.7, -8.8,
       -4.9, -6, -7.2, -6.4, -7.5, -8.7, -9.8, -5.6,
       -6.1]
s70 = [0, 1.3, 0.2, -1, 2.6, 1.4, 0.3, -0.9,
       0, -1.2, 4.1, 2.9, 1.8, 0.6, 1.5, 0.3,
       -0.8, 3.5, 2.3, 1.2, 0, 0.9, -0.3, -1.4,
       2.9, 1.7, 0.6, -0.6, 0.3, -0.9, -2, 2.2,
       1, -0.1, -1.3, -0.4, -1.6, -2.7, 3.1, 1.9,
       0.8, -0.4, 0.5, -0.7, -1.8, 2.6, 1.4, 0.3,
       -0.2]
s71 = [0.5, -0.6, 2.2, 1, -0.1, 0.8, -0.4, -1.5,
       4.4, 3.2, 2.1, 0.9, 1.8, 0.6, 7.3, 6.1,
       5, 3.8, 4.7, 3.5, 2.4, 1.2, 10.1, 8.9,
       7.8, 6.6, 7.5, 6.3, 5.2, 4, 4.9, 11.8,
       10.6, 9.5, 8.3, 9.2, 8, 6.9, 5.7, 6.6,
       14.2, 13, 11.9, 10.7, 11.6, 10.4, 9.3, 8.1,
       7.6]
s72 = [0, -1.2, 2.5, 1.3, 0.2, -1, -0.1, -1.3,
       3.6, 2.4, 1.3, 0.1, 1, -0.2, -1.3, 5.9,
       4.7, 3.6, 2.4, 3.3, 2.1, 1, -0.2, 0.7,
       7.4, 6.2, 5.1, 3.9, 4.8, 3.6, 2.5, 1.3,
       2.2, 9.6, 8.4, 7.3, 6.1, 7, 5.8, 4.7,
       3.5, 4.4, 3.2, 2.1, 0.9, 1.8, 0.6, -0.5,
       -1]
s73 = [0, -1.1, -2.3, -3.4, -0.6, -1.7, -2.9, -2.1,
       -3.2, -4.4, -5.5, -1.2, -2.3, -3.5, -4.6, -3.8,
       -4.9, -6.1, -7.2, -2.8, -3.9, -5.1, -6.2, -5.4,
       -6.5, -7.7, -8.8, -4.5, -5.6, -6.8, -7.9, -7.1,
       -8.2, -9.4, -10.5, -6.3, -7.4, -8.6, -9.7, -8.9,
       -10, -11.2, -12.3, -7.8, -8.9, -10.1, -11.2, -10.4,
       -10.9]
s74 = [0.3, -0.8, 1.1, 0, -1.2, -0.4, 2.8, 1.6,
       0.5, -0.7, -1.8, -1, 3.1, 1.9, 0.8, -0.4,
       0.5, -0.7, -1.8, 2.5, 1.3, 0.2, -1, -0.1,
       -1.3, -2.4, 2.3, 1.1, 0, -1.2, -0.3, -1.5,
       -2.6, 1.9, 0.7, -0.4, -1.6, -0.7, -1.9, -3,
       1.3, 0.1, -1, -2.2, -1.3, -2.5, 2.2, 1,
       0.5]
# series that stop changing (flat tails)
s75 = [0, -0.5, -1, 0.8, 0.3, -0.2, -0.7, -1.2,
       -1.7, -2.2, -0.5, -1, -1.5, -2, -2.5, -3.1,
       -3.1, -3.1, -3.1, -3.1, -3.1, -3.1, -3.1, -3.1,
       -3.1, -3.1, -3.1, -3.1, -3.1, -3.1, -3.1, -3.1,
       -3.1, -3.1, -3.1, -3.1, -3.1, -3.1, -3.1, -3.1,
       -3.1, -3.1, -3.1, -3.1, -3.1, -3.1, -3.1, -3.1,
       -3.1]
s76 = [0, -0.6, -1.2, -1.8, 0.5, -0.1, -0.7, -1.3,
       -1.9, -2.5, -3.1, -0.5, -1.1, -1.7, -2.3, -2.9,
       -3.5, -4.1, -4.7, -5.3, -5.9, -6.4, -6.4, -6.4,
       -6.4, -6.4, -6.4, -6.4, -6.4, -6.4, -6.4, -6.4,
       -6.4, -6.4, -6.4, -6.4, -6.4, -6.4, -6.4, -6.4,
       -6.4, -6.4, -6.4, -6.4, -6.4, -6.4, -6.4, -6.4,
       -6.4]
s77 = [0, 2.5, 1.9, 1.3, 0.7, 0.1, 3.5, 2.9,
       2.3, 1.7, 1.1, 0.5, -0.1, -0.7, 3, 2.4,
       1.8, 1.2, 0.6, 0, -0.6, -1.2, -1.8, 2,
       1.4, 0.8, 0.2, -0.4, -1, -1.6, -2.2, -2.8,
       -3.4, -4, -4.6, -3.1, -3.1, -3.1, -3.1, -3.1,
       -3.1, -3.1, -3.1, -3.1, -3.1, -3.1, -3.1, -3.1,
       -3.1]
s78 = [0, -0.6, -1.2, 1, 0.4, -0.2, -0.8, -1.4,
       -2, -2.6, 0.5, -0.1, -0.7, -1.3, -1.9, -2.5,
       -3.1, -3.7, -4.3, -1.5, -2.1, -2.7, -3.3, -3.9,
       -4.5, -5.1, -5.7, -6.3, -3.5, -4.1, -4.7, -5.3,
       -5.4, -5.4, -5.4, -5.4, -5.4, -5.4, -5.4, -5.4,
       -5.4, -5.4, -5.4, -5.4, -5.4, -5.4, -5.4, -5.4,
       -5.4]
s79 = [0, 0, 0, 0, 0, 0, 0, 0,
       0, 0, 0, 0, 0, 0, 0, 0,
       0, 0, 0, 0, 0, 0, 0, 0,
       0, 0, 0, 0, 0, 0, 0, 0,
       0, 0, 0, 0, 0, 0, 0, 0,
       0, 0, 0, 0, 0, 0, 0, 0,
       0]

SERIES = [s01, s02, s03, s04, s05, s06, s07, s08, s09, s10,
          s11, s12, s13, s14, s15, s16, s17, s18, s19, s20,
          s21, s22, s23, s24, s25, s26, s27, s28, s29, s30,
          s31, s32, s33, s34, s35, s36, s37, s38, s39, s40,
          s41, s42, s43, s44, s45, s46, s47, s48, s49, s50,
          s51, s52, s53, s54, s55, s56, s57, s58, s59, s60,
          s61, s62, s63, s64, s65, s66, s67, s68, s69, s70,
          s71, s72, s73, s74, s75, s76, s77, s78, s79]

# ---------------- style ----------------
R, DR, G, B, DB = "#ff0000", "#a00000", "#00a000", "#0000ff", "#0000a0"
P, C, Y, K, LB = "#ff60ff", "#40ffff", "#ffff00", "#000000", "#6060ff"
COLORS = [DR, DR, G, B, P, DB, DR, Y,
          R, G, B, P, C, Y, DR, DB, R, G, B, P, C, Y, DR, DB, R, G, B, P, C, Y,
          DR, DB, LB, R, G, B, P, C, Y, DR, DB, LB, R, G, B, P,
          C, R,
          C, C, DB, Y, Y, G, R, C,
          B, P, P, DR, G, B, R, LB,
          R, G, B, P, C, Y, DR, B, R, LB,
          K, LB, Y, G, DR]

bad = [i + 1 for i, s in enumerate(SERIES) if len(s) != len(HOURS)]
if bad or len(COLORS) != len(SERIES):
    raise ValueError(f"series with wrong length: {bad}, colors {len(COLORS)} vs {len(SERIES)}")

ids = [f"s{i + 1:02d}" for i in range(len(SERIES))]
rows = []
for sid, vals in zip(ids, SERIES):
    for h, v in zip(HOURS, vals):
        rows.append({"series": sid, "hour": h, "value": v})
df = pd.DataFrame(rows)
xt = pd.DataFrame({"tick": X_TICKS})
yt = pd.DataFrame({"tick": Y_TICKS})

FONT = "DejaVu Sans Mono"
FS = 11
W, H = 569, 414

xs = alt.Scale(domain=[0, 23.75], nice=False, zero=False)
ys = alt.Scale(domain=[-40, 40], nice=False, zero=False)

x_axis = alt.Axis(values=X_TICKS, title="Hour of Day", ticks=False, tickSize=0, domain=False,
                  grid=False, labelPadding=7, titlePadding=3, labelFlush=False,
                  labelOverlap=False, format="d")
y_axis = alt.Axis(values=Y_TICKS, title="Cumulative (Z*Z)-1", ticks=False, tickSize=0,
                  domain=False, grid=False, labelPadding=7, titlePadding=8, format="d")

lines = alt.Chart(df).mark_line(strokeWidth=1, interpolate="linear").encode(
    x=alt.X("hour:Q", scale=xs, axis=x_axis),
    y=alt.Y("value:Q", scale=ys, axis=y_axis),
    color=alt.Color("series:N", scale=alt.Scale(domain=ids, range=COLORS), legend=None),
)

xtick_bottom = alt.Chart(xt).mark_rule(color="black", strokeWidth=1).encode(
    x=alt.X("tick:Q", scale=xs, axis=x_axis), y=alt.value(H), y2=alt.value(H - 6))
xtick_top = alt.Chart(xt).mark_rule(color="black", strokeWidth=1).encode(
    x=alt.X("tick:Q", scale=xs, axis=x_axis), y=alt.value(0), y2=alt.value(6))
ytick_left = alt.Chart(yt).mark_rule(color="black", strokeWidth=1).encode(
    y=alt.Y("tick:Q", scale=ys, axis=y_axis), x=alt.value(0), x2=alt.value(6))
ytick_right = alt.Chart(yt).mark_rule(color="black", strokeWidth=1).encode(
    y=alt.Y("tick:Q", scale=ys, axis=y_axis), x=alt.value(W), x2=alt.value(W - 6))

chart = alt.layer(lines, xtick_bottom, xtick_top, ytick_left, ytick_right).properties(
    width=W, height=H,
    padding={"left": 51, "top": 32, "right": 20, "bottom": 34},
    autosize=alt.AutoSizeParams(type="none"),
    title=alt.TitleParams(text="Cumulative Z-Squared Value", font=FONT, fontSize=FS,
                          fontWeight="normal", color="black", anchor="middle", offset=4),
    background="white",
).configure_view(
    stroke="black", strokeWidth=1
).configure_axis(
    labelFont=FONT, labelFontSize=FS, labelColor="black",
    titleFont=FONT, titleFontSize=FS, titleFontWeight="normal", titleColor="black",
)

chart.save("out.html", embed_options={"renderer": "svg", "actions": False})
